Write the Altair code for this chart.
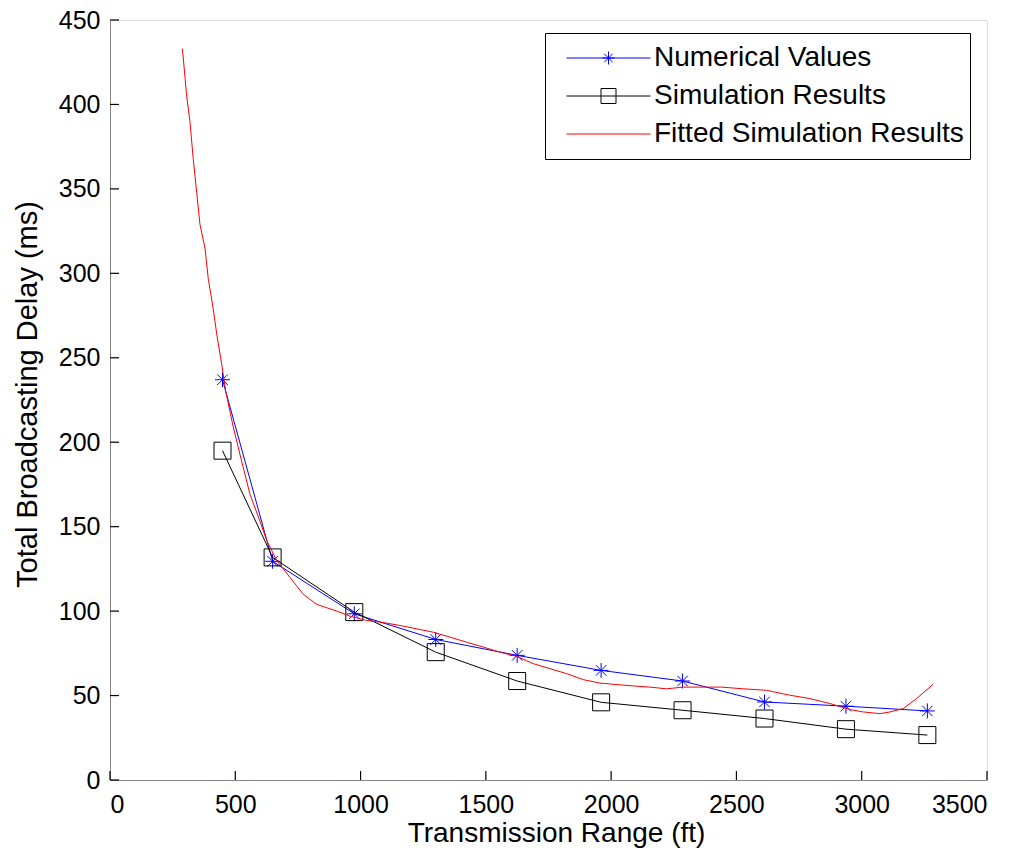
import altair as alt
import pandas as pd

# ---- data ----
range_pts = [449, 649, 975, 1300, 1625, 1960, 2285, 2612, 2937, 3262]
numerical_vals = [237, 129.5, 98.4, 83.2, 73.8, 64.9, 58.6, 46.2, 43.7, 40.9]
simulation_vals = [195, 131.8, 99.4, 75.7, 58.6, 46.0, 41.3, 36.4, 30.1, 26.6]

fit_range = [289, 300, 306, 319, 332, 346, 359, 379, 392, 412, 426, 446, 462, 492, 525,
             559, 599, 625, 665, 718, 771, 825, 905, 958, 1024, 1100, 1157, 1224, 1290,
             1357, 1423, 1490, 1556, 1623, 1689, 1756, 1822, 1889, 1955, 2022, 2088,
             2155, 2221, 2288, 2354, 2440, 2527, 2620, 2713, 2793, 2873, 2953, 3006,
             3073, 3113, 3166, 3219, 3285]
fit_vals = [433, 415, 405, 390, 368, 348, 329, 315, 297, 279, 264, 246, 230, 209, 189,
            169, 153, 142, 130, 120, 110, 104, 100, 97, 94.5, 93, 91.5, 89.5, 87.5,
            84.6, 81.6, 78.7, 75.7, 73.2, 68.9, 65.9, 63, 59.4, 57.4, 56.5, 55.7,
            55, 54, 55, 55, 55, 54, 53.1, 50.2, 48.2, 45.3, 41.7, 40.3,
            39.3, 40.3, 42.3, 48.2, 56.7]

series_names = ["Numerical Values", "Simulation Results", "Fitted Simulation Results"]
series_colors = ["#0000FF", "#000000", "#FF0000"]
x_ticks = [0, 500, 1000, 1500, 2000, 2500, 3000, 3500]
y_ticks = [0, 50, 100, 150, 200, 250, 300, 350, 400, 450]

num_df = pd.DataFrame({"range": range_pts, "delay": numerical_vals})
sim_df = pd.DataFrame({"range": range_pts, "delay": simulation_vals})
fit_df = pd.DataFrame({"range": fit_range, "delay": fit_vals})
legend_df = pd.DataFrame({"series": series_names,
                          "range": [range_pts[0], range_pts[0], fit_range[0]],
                          "delay": [numerical_vals[0], simulation_vals[0], fit_vals[0]]})
xtick_df = pd.DataFrame({"range": x_ticks})
ytick_df = pd.DataFrame({"delay": y_ticks})

FONT = "Liberation Sans"
W, H = 877, 760

STAR = "M-1,0H1M0,-1V1M-0.7,-0.7L0.7,0.7M-0.7,0.7L0.7,-0.7"
LEG_NUM = "M-0.7,0H0.98M0.02,0H0.26M0.14,-0.13V0.13M0.055,-0.085L0.225,0.085M0.055,0.085L0.225,-0.085"
LEG_SIM = "M-0.7,0H0.98M-0.01,-0.15H0.29V0.15H-0.01Z"
LEG_FIT = "M-0.7,0H0.98"

xscale = alt.Scale(domain=[0, 3500], nice=False)
yscale = alt.Scale(domain=[0, 450], nice=False)

x_enc = alt.X(
    "range:Q", scale=xscale,
    axis=alt.Axis(
        values=x_ticks, format="d", title="Transmission Range (ft)", grid=False,
        tickSize=0, labelPadding=12, labelFontSize=25, titleFontSize=28,
        labelFont=FONT, titleFont=FONT, titleFontWeight="normal",
        titleBaseline="alphabetic", titleY=61, titleX=446,
    ),
)
y_enc = alt.Y(
    "delay:Q", scale=yscale,
    axis=alt.Axis(
        values=y_ticks, format="d", title="Total Broadcasting Delay (ms)", grid=False,
        tickSize=0, labelPadding=10, labelFontSize=25, titleFontSize=29,
        labelFont=FONT, titleFont=FONT, titleFontWeight="normal",
        titleBaseline="alphabetic", titleX=-74, titleY=374,
    ),
)

legend = alt.Legend(
    title=None, orient="none", legendX=435, legendY=13,
    labelFont=FONT, labelFontSize=28, labelColor="black", labelLimit=500,
    labelOffset=2, strokeColor="black", fillColor="white", padding=6,
    cornerRadius=0, rowPadding=0, clipHeight=38, symbolSize=10000,
    symbolOffset=0, symbolStrokeWidth=1, symbolOpacity=1,
)

num_line = alt.Chart(num_df).mark_line(strokeWidth=1, color=series_colors[0]).encode(x=x_enc, y=y_enc)
num_pts = alt.Chart(num_df).mark_point(shape=STAR, size=225, strokeWidth=1, filled=False, opacity=1,
                                       color=series_colors[0]).encode(x=x_enc, y=y_enc)
sim_line = alt.Chart(sim_df).mark_line(strokeWidth=1, color=series_colors[1]).encode(x=x_enc, y=y_enc)
sim_pts = alt.Chart(sim_df).mark_point(shape="square", size=289, strokeWidth=1, filled=False, opacity=1,
                                       color=series_colors[1]).encode(x=x_enc, y=y_enc)
fit_line = alt.Chart(fit_df).mark_line(strokeWidth=1, color=series_colors[2]).encode(x=x_enc, y=y_enc)

legend_layer = alt.Chart(legend_df).mark_point(filled=False, strokeWidth=1).encode(
    x=x_enc, y=y_enc,
    color=alt.Color("series:N", scale=alt.Scale(domain=series_names, range=series_colors), legend=legend),
    shape=alt.Shape("series:N", scale=alt.Scale(domain=series_names, range=[LEG_NUM, LEG_SIM, LEG_FIT]),
                    legend=legend),
    opacity=alt.value(0),
)

# inward tick marks (MATLAB style)
xticks_layer = alt.Chart(xtick_df).mark_rule(color="black", strokeWidth=1.2).encode(
    x=alt.X("range:Q", scale=xscale), y=alt.value(H), y2=alt.value(H - 9))
yticks_layer = alt.Chart(ytick_df).mark_rule(color="black", strokeWidth=1.2).encode(
    y=alt.Y("delay:Q", scale=yscale), x=alt.value(0), x2=alt.value(9))

chart = alt.layer(xticks_layer, yticks_layer, num_line, num_pts, sim_line, sim_pts, fit_line,
                  legend_layer).properties(
    width=W, height=H,
    autosize=alt.AutoSizeParams(type="none"),
    padding={"left": 102, "top": 12, "right": 24, "bottom": 68},
).configure_view(
    stroke="black", strokeWidth=1
).configure_axis(
    domainColor="black", tickColor="black", labelColor="black", titleColor="black",
    domainWidth=1, tickWidth=1,
).configure(background="white")

chart.save("out.html", embed_options={"renderer": "svg", "actions": False})
